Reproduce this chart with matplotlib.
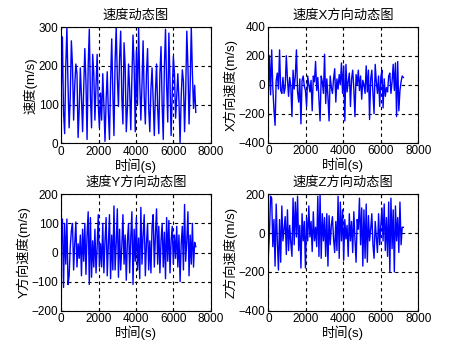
import numpy as np
import matplotlib
matplotlib.use('Agg')
import matplotlib.pyplot as plt

plt.rcParams['font.family'] = ['Liberation Sans', 'Noto Sans CJK SC', 'DejaVu Sans']

# sample step (s)
dt = 60

speed = [140, 275, 80, 25, 200, 300, 150, 40, 120, 265,
         200, 60, 150, 205, 180, 15, 90, 195, 120, 30,
         140, 245, 160, 10, 200, 295, 120, 40, 230, 180,
         60, 150, 230, 100, 40, 130, 60, 180, 100, 5,
         110, 185, 80, 10, 160, 270, 130, 20, 210, 300,
         170, 95, 220, 290, 120, 50, 260, 200, 30, 90,
         205, 140, 35, 170, 280, 200, 30, 240, 100, 300,
         160, 60, 150, 265, 120, 50, 180, 245, 90, 30,
         140, 195, 110, 20, 130, 205, 90, 25, 180, 250,
         100, 10, 200, 295, 150, 55, 285, 160, 20, 130,
         225, 180, 65, 120, 180, 110, 0, 120, 190, 160,
         30, 130, 290, 200, 50, 150, 300, 180, 90, 150,
         80]

vx = [-60, 200, -70, 240, -20, -170, -280, 30, 80, -30,
      240, -40, -60, 50, -60, -20, 200, 40, -80, 50,
      -10, -220, 100, -30, 60, 240, -50, -120, 40, -270,
      30, 60, -10, -40, -150, 60, 0, -50, 30, -180,
      60, 20, 160, -40, 50, -100, -250, 60, 20, -60,
      210, -130, 40, -80, -250, 60, -20, -60, 40, 110,
      -120, 40, -30, 70, 0, 150, -60, 130, -250, 140,
      -50, 20, 80, -150, 40, 100, -30, -220, 70, 0,
      100, -40, 60, -100, 30, 0, -60, 130, -50, 100,
      -240, 40, 100, -60, -200, 140, 20, -60, 60, -150,
      50, 100, -160, 40, -80, -20, -50, 60, 80, -60,
      20, 140, -40, 150, -220, 160, -180, -40, 20, 60,
      50]

vy = [35, 115, -120, 100, -40, 115, -110, -80, 20, 75,
      100, -60, 30, 105, -50, 30, -20, 60, -80, 80,
      -30, 100, -75, 60, 140, -110, 120, -85, 40, -50,
      80, -70, 20, 130, -50, 30, -50, 100, -70, 40,
      120, -80, 30, 130, -90, 60, -60, 160, -60, 30,
      150, -85, 80, -60, 20, 130, -40, 60, -95, 40,
      100, -70, 50, 140, -110, 80, -30, 120, -60, 50,
      -90, 155, -40, 60, 130, -80, 30, 100, -60, 40,
      -70, 90, 130, -50, 60, 150, -40, 90, -70, 40,
      100, -50, 70, -90, 120, -30, 110, -70, 40, 90,
      -40, 60, -20, 90, -50, 60, -100, 30, 90, -60,
      165, -30, 40, 140, -80, 60, -40, 100, -50, 35,
      20]

vz = [-120, 0, 190, 180, -70, 70, -170, 150, -40, -190,
      70, -150, 140, -40, 20, 85, -110, 120, -90, 40,
      -50, -120, 180, -60, 160, -20, 190, -90, 40, -180,
      100, -40, 60, -180, 80, -40, 140, -20, 60, -95,
      110, -40, 30, -70, 190, -120, 200, -130, 100, -40,
      80, -120, 100, -170, 90, -60, 40, 85, -30, -100,
      60, -90, 190, -130, 160, -40, 120, -140, 70, -30,
      40, -120, 100, -40, 60, -100, 110, -30, -150, 70,
      20, 180, -60, 130, -170, 120, -130, 150, -150, 90,
      -40, 20, 100, -60, -130, 60, -20, -100, 100, -60,
      40, 130, -40, 150, -90, 80, -120, 160, -200, 180,
      -80, 120, -200, 140, -40, 80, -100, 160, -60, 30,
      30]

titles = ['速度动态图', '速度X方向动态图', '速度Y方向动态图', '速度Z方向动态图']
ylabels = ['速度(m/s)', 'X方向速度(m/s)', 'Y方向速度(m/s)', 'Z方向速度(m/s)']
ylims = [(0, 300), (-400, 400), (-200, 200), (-400, 200)]
ysteps = [100, 200, 100, 200]
series = [speed, vx, vy, vz]

# axes boxes in figure fractions (left, bottom, width, height)
boxes = [(0.1347, 0.5952, 0.3284, 0.3277),
         (0.5897, 0.5969, 0.3297, 0.3277),
         (0.1347, 0.1223, 0.3284, 0.3288),
         (0.5897, 0.1223, 0.3297, 0.3288)]

fig = plt.figure(figsize=(4.55, 3.54), dpi=100)

for k in range(4):
    ax = fig.add_axes(boxes[k])
    y = np.array(series[k])
    t = np.arange(len(y)) * dt
    ax.plot(t, y, color='#0000ff', lw=1.0)
    ax.set_xlim(0, 8000)
    ax.set_ylim(*ylims[k])
    ax.set_xticks(np.arange(0, 8001, 2000))
    ax.set_yticks(np.arange(ylims[k][0], ylims[k][1] + 1, ysteps[k]))
    ax.grid(True, color='black', linestyle=(0, (3, 3)), linewidth=0.8)
    ax.tick_params(direction='in', length=2.5, labelsize=8.5, top=True, right=True, pad=2)
    for s in ax.spines.values():
        s.set_linewidth(0.8)
    ax.set_title(titles[k], fontsize=9.5, pad=6)
    ax.set_xlabel('时间(s)', fontsize=9.5, labelpad=0)
    ax.set_ylabel(ylabels[k], fontsize=9.5, labelpad=1)

fig.savefig('out.png', dpi=100)
